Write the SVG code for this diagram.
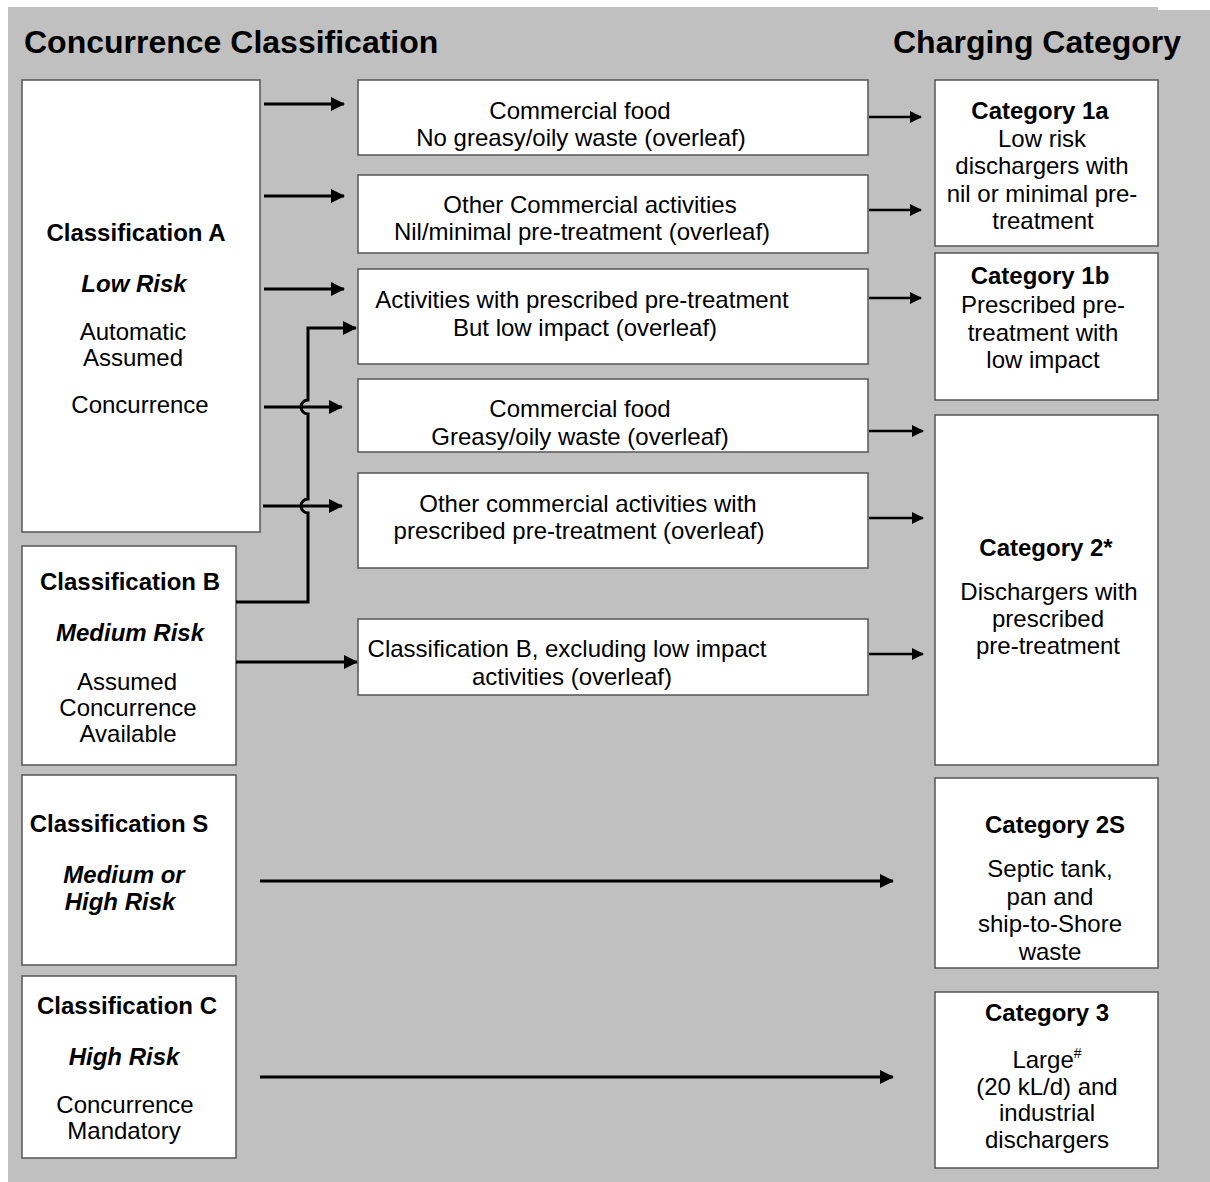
<svg xmlns="http://www.w3.org/2000/svg" width="1210" height="1182" viewBox="0 0 1210 1182">
<style>
text{font-family:"Liberation Sans",Arial,sans-serif;fill:#000;text-anchor:middle}
.t{font-size:32px;font-weight:bold;text-anchor:start}
.r{font-size:24px}
.b{font-size:24px;font-weight:bold}
.bi{font-size:24px;font-weight:bold;font-style:italic}
.box{fill:#fff;stroke:#555;stroke-width:1.5}
.c{fill:none;stroke:#000;stroke-width:3}
.c2{fill:none;stroke:#000;stroke-width:2.5}
</style>
<defs>
<marker id="ah" markerUnits="userSpaceOnUse" markerWidth="16" markerHeight="16" refX="13" refY="7" orient="auto"><path d="M0,0 L14,7 L0,14 z" fill="#000"/></marker>
<marker id="ah2" markerUnits="userSpaceOnUse" markerWidth="14" markerHeight="14" refX="11" refY="6" orient="auto"><path d="M0,0 L12,6 L0,12 z" fill="#000"/></marker>
</defs>
<rect x="8" y="7" width="1202" height="1175" fill="#c0c0c0"/>
<rect x="1158" y="7" width="52" height="3" fill="#fff"/>
<text class="t" x="24" y="53">Concurrence Classification</text>
<text class="t" x="893" y="53">Charging Category</text>

<g id="classA"><rect class="box" x="22" y="80" width="238" height="452"/>
<text class="b" x="136" y="241">Classification A</text>
<text class="bi" x="134" y="292">Low Risk</text>
<text class="r" x="133" y="340">Automatic</text>
<text class="r" x="133" y="366">Assumed</text>
<text class="r" x="140" y="413">Concurrence</text></g>

<g id="classB"><rect class="box" x="22" y="546" width="214" height="219"/>
<text class="b" x="130" y="590">Classification B</text>
<text class="bi" x="130" y="641">Medium Risk</text>
<text class="r" x="127" y="690">Assumed</text>
<text class="r" x="128" y="716">Concurrence</text>
<text class="r" x="128" y="742">Available</text></g>

<g id="classS"><rect class="box" x="22" y="775" width="214" height="190"/>
<text class="b" x="119" y="832">Classification S</text>
<text class="bi" x="124" y="883">Medium or</text>
<text class="bi" x="120" y="910">High Risk</text></g>

<g id="classC"><rect class="box" x="22" y="976" width="214" height="182"/>
<text class="b" x="127" y="1014">Classification C</text>
<text class="bi" x="124" y="1065">High Risk</text>
<text class="r" x="125" y="1113">Concurrence</text>
<text class="r" x="124" y="1139">Mandatory</text></g>

<g id="m1"><rect class="box" x="358" y="80" width="510" height="75"/>
<text class="r" x="580" y="119">Commercial food</text>
<text class="r" x="581" y="146">No greasy/oily waste (overleaf)</text></g>

<g id="m2"><rect class="box" x="358" y="175" width="510" height="78"/>
<text class="r" x="590" y="213">Other Commercial activities</text>
<text class="r" x="582" y="240">Nil/minimal pre-treatment (overleaf)</text></g>

<g id="m3"><rect class="box" x="358" y="269" width="510" height="95"/>
<text class="r" x="582" y="308">Activities with prescribed pre-treatment</text>
<text class="r" x="585" y="336">But low impact (overleaf)</text></g>

<g id="m4"><rect class="box" x="358" y="379" width="510" height="73"/>
<text class="r" x="580" y="417">Commercial food</text>
<text class="r" x="580" y="445">Greasy/oily waste (overleaf)</text></g>

<g id="m5"><rect class="box" x="358" y="473" width="510" height="95"/>
<text class="r" x="588" y="512">Other commercial activities with</text>
<text class="r" x="579" y="539">prescribed pre-treatment (overleaf)</text></g>

<g id="m6"><rect class="box" x="358" y="619" width="510" height="76"/>
<text class="r" x="567" y="657">Classification B, excluding low impact</text>
<text class="r" x="572" y="685">activities (overleaf)</text></g>

<g id="cat1a"><rect class="box" x="935" y="80" width="223" height="166"/>
<text class="b" x="1040" y="119">Category 1a</text>
<text class="r" x="1042" y="147">Low risk</text>
<text class="r" x="1042" y="174">dischargers with</text>
<text class="r" x="1042" y="202">nil or minimal pre-</text>
<text class="r" x="1043" y="229">treatment</text></g>

<g id="cat1b"><rect class="box" x="935" y="253" width="223" height="147"/>
<text class="b" x="1040" y="284">Category 1b</text>
<text class="r" x="1043" y="313">Prescribed pre-</text>
<text class="r" x="1043" y="341">treatment with</text>
<text class="r" x="1043" y="368">low impact</text></g>

<g id="cat2"><rect class="box" x="935" y="415" width="223" height="350"/>
<text class="b" x="1046" y="556">Category 2*</text>
<text class="r" x="1049" y="600">Dischargers with</text>
<text class="r" x="1048" y="627">prescribed</text>
<text class="r" x="1048" y="654">pre-treatment</text></g>

<g id="cat2s"><rect class="box" x="935" y="778" width="223" height="190"/>
<text class="b" x="1055" y="833">Category 2S</text>
<text class="r" x="1050" y="877">Septic tank,</text>
<text class="r" x="1050" y="905">pan and</text>
<text class="r" x="1050" y="932">ship-to-Shore</text>
<text class="r" x="1050" y="960">waste</text></g>

<g id="cat3"><rect class="box" x="935" y="992" width="223" height="176"/>
<text class="b" x="1047" y="1021">Category 3</text>
<text class="r" x="1047" y="1068">Large<tspan font-size="14" dy="-10">#</tspan></text>
<text class="r" x="1047" y="1095">(20 kL/d) and</text>
<text class="r" x="1047" y="1121">industrial</text>
<text class="r" x="1047" y="1148">dischargers</text></g>

<g id="connectors">
<path class="c" d="M236,602 H308 V513 A7,7 0 0,1 308,499 V414 A7,7 0 0,1 308,400 V328 H356" marker-end="url(#ah)"/>
<path class="c" d="M264,104 H344" marker-end="url(#ah)"/>
<path class="c" d="M264,196 H344" marker-end="url(#ah)"/>
<path class="c" d="M264,289 H344" marker-end="url(#ah)"/>
<path class="c" d="M264,407 H342" marker-end="url(#ah)"/>
<path class="c" d="M263,506 H342" marker-end="url(#ah)"/>
<path class="c" d="M236,662 H357" marker-end="url(#ah)"/>
<path class="c" d="M260,881 H893" marker-end="url(#ah)"/>
<path class="c" d="M260,1077 H893" marker-end="url(#ah)"/>
<path class="c2" d="M869,117 H921" marker-end="url(#ah2)"/>
<path class="c2" d="M869,210 H921" marker-end="url(#ah2)"/>
<path class="c2" d="M869,298 H921" marker-end="url(#ah2)"/>
<path class="c2" d="M869,431 H923" marker-end="url(#ah2)"/>
<path class="c2" d="M869,518 H923" marker-end="url(#ah2)"/>
<path class="c2" d="M869,654 H923" marker-end="url(#ah2)"/>
</g>
</svg>
